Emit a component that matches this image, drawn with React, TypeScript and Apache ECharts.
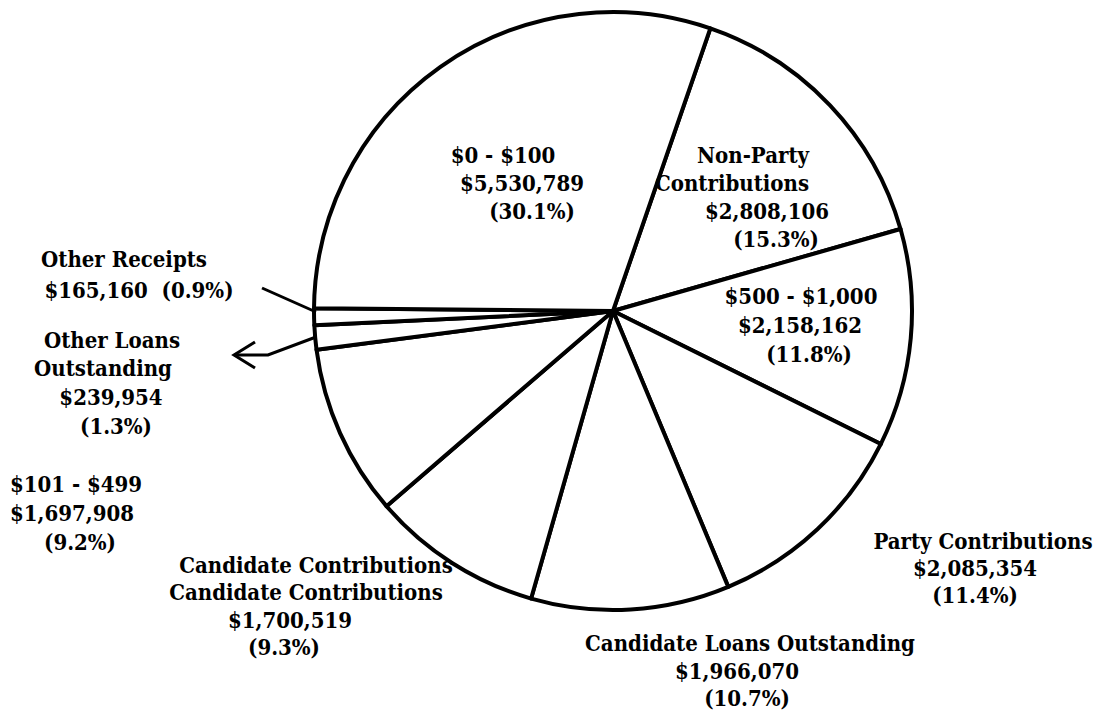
import React, { useEffect, useRef } from "react";
import * as echarts from "echarts";

// ---- data ----
const categories = [
  "Non-Party Contributions",
  "$500 - $1,000",
  "Party Contributions",
  "Candidate Loans Outstanding",
  "Candidate Contributions",
  "$101 - $499",
  "Other Loans Outstanding",
  "Other Receipts",
  "$0 - $100",
];
const amounts = [2808106, 2158162, 2085354, 1966070, 1700519, 1697908, 239954, 165160, 5530789];
const percents = ["15.3", "11.8", "11.4", "10.7", "9.3", "9.2", "1.3", "0.9", "30.1"];
// heading lines exactly as printed on the chart
const labelHeads = [
  ["Non-Party", "Contributions"],
  ["$500 - $1,000"],
  ["Party Contributions"],
  ["Candidate Loans Outstanding"],
  ["Candidate Contributions", "Candidate Contributions"],
  ["$101 - $499"],
  ["Other Loans", "Outstanding"],
  ["Other Receipts"],
  ["$0 - $100"],
];

// ---- layout (positions of each printed label line, in px) ----
const PIE_CENTER = [613, 311];
const PIE_RADIUS = 299;
const START_ANGLE = 71;
const inlinePercent = [false, false, false, false, false, false, false, true, false];
const lineCenters: number[][][] = [
  [[753, 155], [732, 183], [767, 211], [776, 239]],
  [[801, 296], [800, 325], [809, 354]],
  [[983, 541], [975, 568], [975, 595]],
  [[750, 643], [737, 671], [747, 698]],
  [[316, 565], [306, 592], [290, 620], [284, 647]],
  [[76, 484], [72, 513], [80, 542]],
  [[112, 340], [103, 368], [111, 397], [116, 426]],
  [[124, 259], [139, 290]],
  [[503, 155], [522, 183], [532, 211]],
];

const fmt = (v: number) => "$" + v.toLocaleString("en-US");

export default function App() {
  const ref = useRef<HTMLDivElement>(null);
  useEffect(() => {
    if (!ref.current) return;
    const chart = echarts.init(ref.current, null, { renderer: "svg" });
    const font = '"DejaVu Serif Condensed", "Liberation Serif", serif';

    const texts: any[] = [];
    categories.forEach((_, i) => {
      const lines = [...labelHeads[i]];
      if (inlinePercent[i]) {
        lines.push(`${fmt(amounts[i])}  (${percents[i]}%)`);
      } else {
        lines.push(fmt(amounts[i]));
        lines.push(`(${percents[i]}%)`);
      }
      lines.forEach((t, j) => {
        const p = lineCenters[i][j];
        texts.push({
          type: "text",
          x: p[0],
          y: p[1],
          z: 10,
          style: {
            text: t,
            fill: "#000",
            font: `bold 22px ${font}`,
            lineHeight: 22,
            textAlign: "center",
            textVerticalAlign: "middle",
          },
        });
      });
    });

    const leaders: any[] = [
      {
        type: "polyline",
        z: 10,
        shape: { points: [[262, 288], [316, 312]] },
        style: { stroke: "#000", lineWidth: 3, fill: "none" },
      },
      {
        type: "polyline",
        z: 10,
        shape: { points: [[316, 337], [268, 355], [234, 355]] },
        style: { stroke: "#000", lineWidth: 3, fill: "none" },
      },
      {
        type: "polyline",
        z: 10,
        shape: { points: [[255, 342], [234, 355], [255, 368]] },
        style: { stroke: "#000", lineWidth: 3, fill: "none" },
      },
    ];

    chart.setOption({
      animation: false,
      backgroundColor: "#fff",
      series: [
        {
          type: "pie",
          center: PIE_CENTER,
          radius: [0, PIE_RADIUS],
          startAngle: START_ANGLE,
          clockwise: true,
          silent: true,
          avoidLabelOverlap: false,
          label: { show: false },
          labelLine: { show: false },
          itemStyle: { color: "#fff", borderColor: "#000", borderWidth: 4 },
          data: categories.map((c, i) => ({ name: c, value: amounts[i] })),
        },
      ],
      graphic: [...leaders, ...texts],
    });
    return () => chart.dispose();
  }, []);
  return (
    <div
      ref={ref}
      style={{ position: "fixed", left: 0, top: 0, width: 1100, height: 713, background: "#fff" }}
    />
  );
}
